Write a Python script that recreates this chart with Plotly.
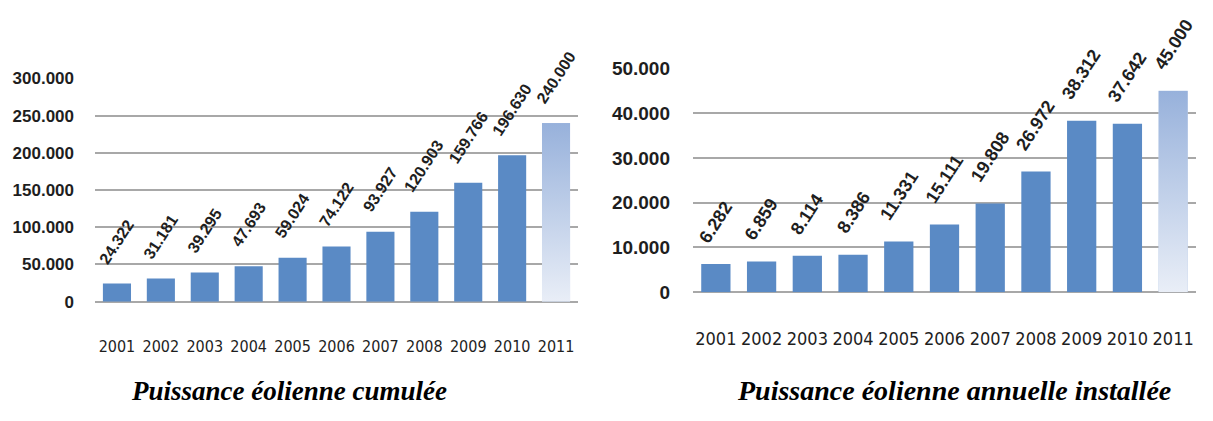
import base64
import plotly.graph_objects as go

# ---- data ----
years = ["2001", "2002", "2003", "2004", "2005", "2006", "2007", "2008", "2009", "2010", "2011"]
cumul = [24322, 31181, 39295, 47693, 59024, 74122, 93927, 120903, 159766, 196630, 240000]
annual = [6282, 6859, 8114, 8386, 11331, 15111, 19808, 26972, 38312, 37642, 45000]
cumul_ticks = [0, 50000, 100000, 150000, 200000, 250000, 300000]
annual_ticks = [0, 10000, 20000, 30000, 40000, 50000]
title_left = "Puissance éolienne cumulée"
title_right = "Puissance éolienne annuelle installée"

BAR = "#5A8AC5"
LAST = "#BCCDE8"
GRID = "#A8A8A8"
TXT = "#1E1E1E"
BW = 0.64
NUM_FONT = "Liberation Sans, Arial, sans-serif"
YEAR_FONT = "DejaVu Sans Condensed, Liberation Sans Narrow, sans-serif"

svg = ('<svg xmlns="http://www.w3.org/2000/svg" width="10" height="100" preserveAspectRatio="none">'
       '<defs><linearGradient id="g" x1="0" y1="0" x2="0" y2="1">'
       '<stop offset="0" stop-color="#97B1DB"/><stop offset="1" stop-color="#E9EEF7"/>'
       '</linearGradient></defs><rect width="10" height="100" fill="url(#g)"/></svg>')
grad_src = "data:image/svg+xml;base64," + base64.b64encode(svg.encode()).decode()


def fmt(v):
    return f"{v:,}".replace(",", ".")


idx = list(range(len(years)))
fig = go.Figure()

panels = [
    (cumul, "x", "y", 16, 14),
    (annual, "x2", "y2", 18, 15),
]
for vals, xr, yr, nsize, yshift in panels:
    colors = [BAR] * (len(vals) - 1) + [LAST]
    fig.add_trace(go.Bar(x=idx, y=vals, xaxis=xr, yaxis=yr, width=BW,
                         marker=dict(color=colors, line=dict(width=0)),
                         showlegend=False, hoverinfo="skip"))
    for i, v in zip(idx, vals):
        fig.add_annotation(x=i, y=v, xref=xr, yref=yr, text=f"<b>{fmt(v)}</b>", showarrow=False,
                           textangle=-57, xanchor="center", yanchor="bottom", yshift=yshift,
                           font=dict(family=NUM_FONT, size=nsize, color=TXT))
    # gradient on last bar
    fig.add_layout_image(source=grad_src, xref=xr, yref=yr, x=idx[-1] - BW / 2, y=vals[-1],
                         sizex=BW, sizey=vals[-1], xanchor="left", yanchor="top",
                         sizing="stretch", layer="above")

xcommon = dict(tickmode="array", tickvals=idx, ticktext=years, range=[-0.5, len(years) - 0.5],
               showgrid=False, zeroline=False, showline=False, ticks="", tickangle=0)
fig.update_layout(
    width=1213, height=421, margin=dict(l=0, r=0, t=0, b=0),
    paper_bgcolor="white", plot_bgcolor="white", separators=",.",
    xaxis=dict(domain=[95 / 1213, 578 / 1213], ticklabelstandoff=33,
               tickfont=dict(family=YEAR_FONT, size=16, color=TXT), **xcommon),
    xaxis2=dict(domain=[693 / 1213, 1196 / 1213], ticklabelstandoff=34,
                tickfont=dict(family=YEAR_FONT, size=18, color=TXT), **xcommon),
    yaxis=dict(domain=[114 / 421, 349 / 421], range=[0, 300000], tickvals=cumul_ticks,
               tickformat=",.0f", showgrid=True, gridcolor=GRID, gridwidth=1.5,
               zeroline=True, zerolinecolor=GRID, zerolinewidth=1.5, showline=False, ticks="",
               ticklabelstandoff=20, tickfont=dict(family=NUM_FONT, size=17, color=TXT,
                                                   weight="bold")),
    yaxis2=dict(domain=[124 / 421, 359.5 / 421], range=[0, 50000], tickvals=annual_ticks,
                tickformat=",.0f", showgrid=True, gridcolor=GRID, gridwidth=1.5,
                zeroline=True, zerolinecolor=GRID, zerolinewidth=1.5, showline=False, ticks="",
                ticklabelstandoff=22, tickfont=dict(family=NUM_FONT, size=19, color=TXT,
                                                    weight="bold"),
                anchor="x2"),
)
fig.update_layout(xaxis2_anchor="y2")

for txt, cx, sz in [(title_left, 289, 27), (title_right, 954, 28)]:
    fig.add_annotation(x=cx / 1213, y=(421 - 401) / 421, xref="paper", yref="paper",
                       text=f"<b><i>{txt}</i></b>", showarrow=False,
                       xanchor="center", yanchor="middle",
                       font=dict(family="Liberation Serif, Times New Roman, serif", size=sz,
                                 color="#000000"))

fig.write_html("out.html")
